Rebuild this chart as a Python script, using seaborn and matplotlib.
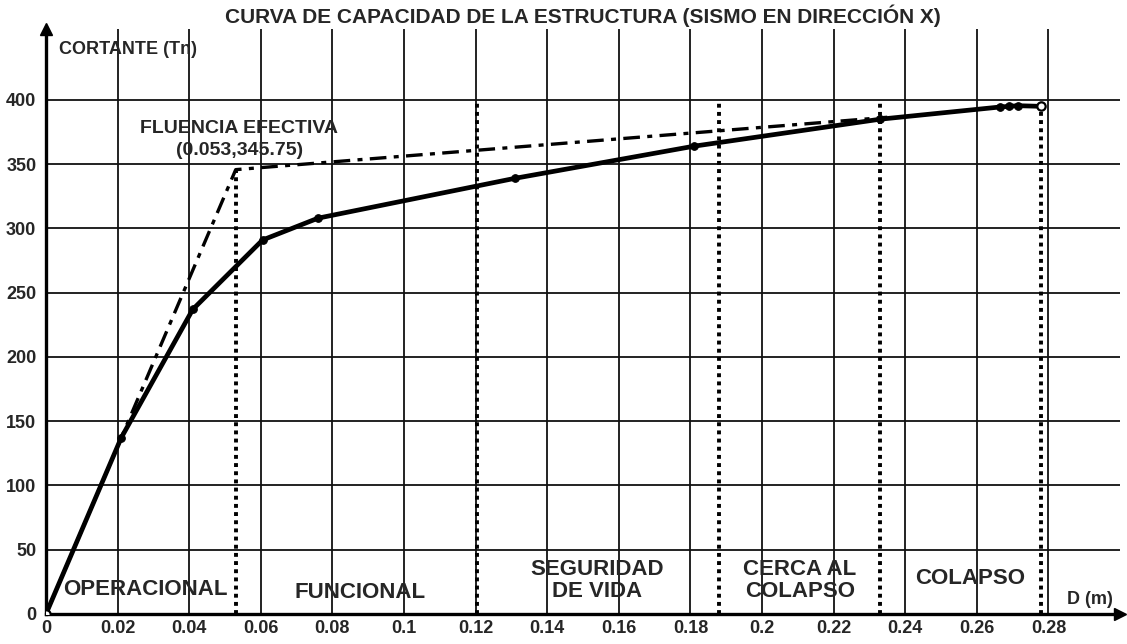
import numpy as np
import pandas as pd
import matplotlib
matplotlib.use("Agg")
import matplotlib.pyplot as plt
import seaborn as sns

# ============================================
# Data
# ============================================

# capacity curve (pushover), D in m, V in Tn
curve_d = [0.0, 0.021, 0.041, 0.0605, 0.076, 0.131, 0.181, 0.233, 0.2665, 0.269, 0.2715, 0.278]
curve_v = [0.0, 137, 237, 291, 308, 339, 364, 385, 394.5, 395, 395.5, 395]

# bilinear idealisation
bilin_d = [0.0, 0.053, 0.235]
bilin_v = [0.0, 345.75, 386.5]

# performance level limits (dotted verticals)
limit_d = [0.053, 0.1204, 0.188, 0.233, 0.278]
limit_top = [345.75, 400, 400, 400, 395]

# level names and where they sit
levels = ["OPERACIONAL", "FUNCIONAL", "SEGURIDAD\nDE VIDA", "CERCA AL\nCOLAPSO", "COLAPSO"]
level_x = [0.0277, 0.0877, 0.154, 0.2106, 0.258]
level_y = [19, 17, 26, 26, 28]

x_ticks = [0, 0.02, 0.04, 0.06, 0.08, 0.1, 0.12, 0.14, 0.16, 0.18, 0.2, 0.22, 0.24, 0.26, 0.28]
x_tick_labels = ["0", "0.02", "0.04", "0.06", "0.08", "0.1", "0.12", "0.14", "0.16",
                 "0.18", "0.2", "0.22", "0.24", "0.26", "0.28"]
y_ticks = [0, 50, 100, 150, 200, 250, 300, 350, 400]

# ============================================
# Plot
# ============================================

sns.set_style("white")
plt.rcParams["font.family"] = ["Liberation Sans", "DejaVu Sans"]
plt.rcParams["font.weight"] = "bold"

fig = plt.figure(figsize=(11.27, 6.44), dpi=100)
ax = fig.add_axes([0.0408, 0.0466, 0.953, 0.908])

ax.set_xlim(0, 0.30)
ax.set_ylim(0, 455)

# grid
for xt in x_ticks[1:]:
    ax.axvline(xt, color="#111111", lw=1.3, zorder=1)
for yt in y_ticks[1:]:
    ax.axhline(yt, color="#111111", lw=1.3, zorder=1)

# limits of performance levels
ax.vlines(limit_d, 0, limit_top, colors="black", linestyles=(0, (1, 1.1)), lw=2.8, zorder=2)

curve_df = pd.DataFrame({"D": curve_d, "V": curve_v})
bilin_df = pd.DataFrame({"D": bilin_d, "V": bilin_v})

sns.lineplot(data=bilin_df, x="D", y="V", ax=ax, color="black", lw=2.4,
             linestyle=(0, (5, 2.2, 1.5, 2.2)), sort=False, zorder=3)
sns.lineplot(data=curve_df, x="D", y="V", ax=ax, color="black", lw=3.4,
             marker="o", markersize=5.5, markeredgecolor="black", sort=False, zorder=4)
ax.plot([curve_d[0], curve_d[-1]], [curve_v[0], curve_v[-1]], "o", mfc="white",
        mec="black", mew=1.6, ms=6, zorder=5)

# spines with arrows
for s in ["top", "right"]:
    ax.spines[s].set_visible(False)
for s in ["left", "bottom"]:
    ax.spines[s].set_linewidth(2.4)
    ax.spines[s].set_color("black")
ax.plot(1, 0, ">k", transform=ax.transAxes, clip_on=False, ms=8)
ax.plot(0, 1, "^k", transform=ax.transAxes, clip_on=False, ms=8)

ax.set_xticks(x_ticks)
ax.set_xticklabels(x_tick_labels)
ax.set_yticks(y_ticks)
ax.tick_params(axis="both", labelsize=13, direction="out", length=5, width=1.2, color="black", pad=2)
ax.tick_params(axis="x", length=0, pad=4)
for lab in ax.get_xticklabels() + ax.get_yticklabels():
    lab.set_fontweight("bold")
ax.set_xlabel("")
ax.set_ylabel("")

# texts
ax.text(0.0036, 439, "CORTANTE (Tn)", fontsize=13, fontweight="bold", va="center", ha="left")
ax.text(0.2916, 11, "D (m)", fontsize=13, fontweight="bold", va="center", ha="center")
ax.text(0.054, 378, "FLUENCIA EFECTIVA", fontsize=14, fontweight="bold", va="center", ha="center")
ax.text(0.054, 361, "(0.053,345.75)", fontsize=14, fontweight="bold", va="center", ha="center")
for name, lx, ly in zip(levels, level_x, level_y):
    ax.text(lx, ly, name, fontsize=16, fontweight="bold", va="center", ha="center",
            linespacing=1.05)

fig.text(0.517, 0.975, "CURVA DE CAPACIDAD DE LA ESTRUCTURA (SISMO EN DIRECCIÓN X)",
         fontsize=15, fontweight="bold", ha="center", va="center")

fig.savefig("out.png", dpi=100)
plt.close()
